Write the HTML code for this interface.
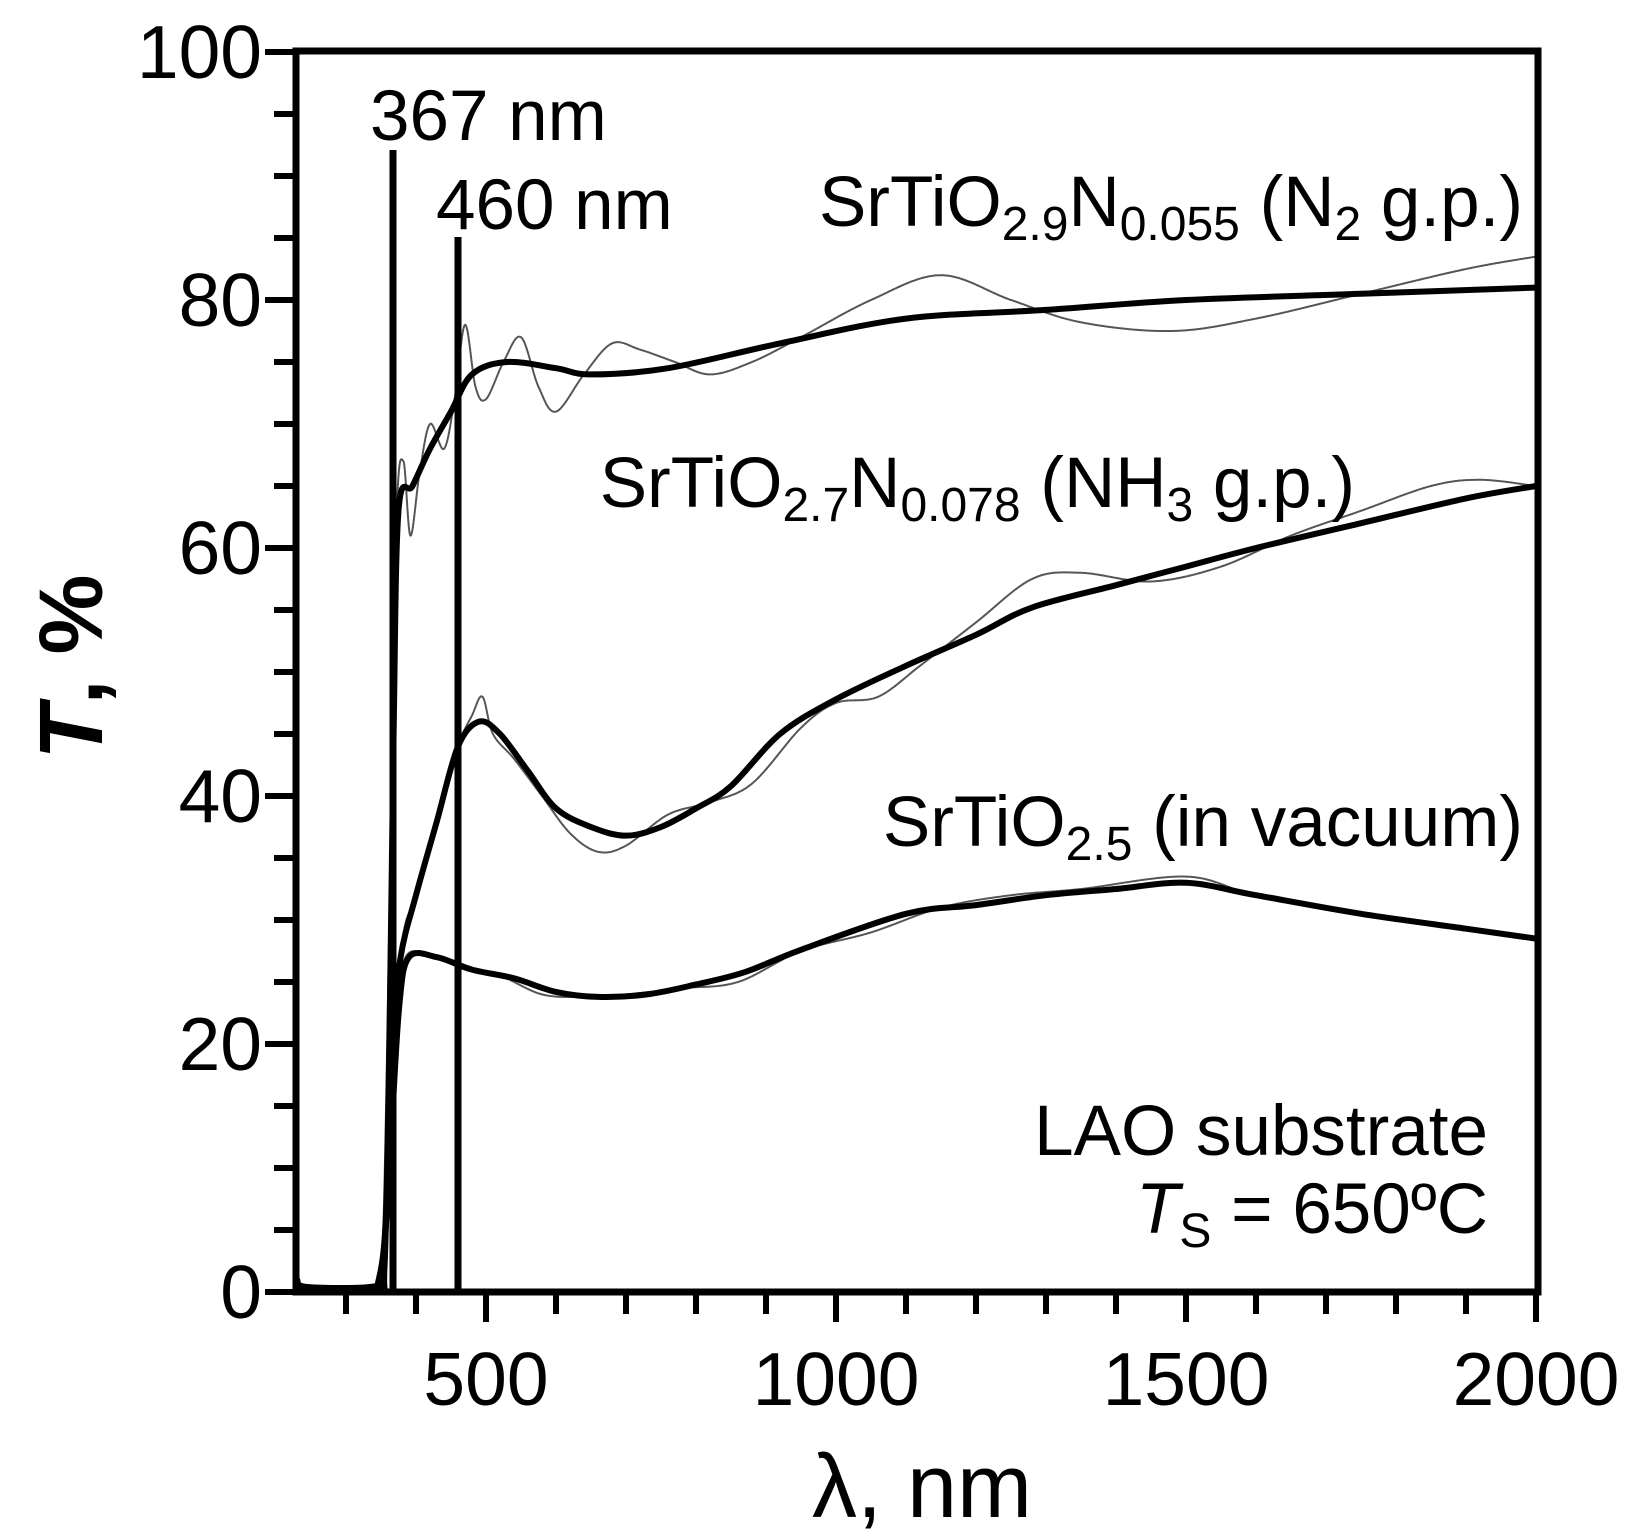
<!DOCTYPE html>
<html><head><meta charset="utf-8"><style>
html,body{margin:0;padding:0;background:#fff}
svg{display:block}
text{font-family:"Liberation Sans",Arial,sans-serif;fill:#000}
</style></head><body>
<svg id="s" width="1625" height="1539" viewBox="0 0 1625 1539" xmlns="http://www.w3.org/2000/svg">
<g id="ticks" stroke="#000" stroke-width="6"></g>
<g id="curves" fill="none" stroke-linejoin="round" stroke-linecap="round"></g>
<line x1="393" y1="150" x2="393" y2="1292" stroke="#000" stroke-width="7"/>
<line x1="458" y1="237" x2="458" y2="1292" stroke="#000" stroke-width="7"/>
<rect x="296" y="51" width="1242" height="1241" fill="none" stroke="#000" stroke-width="7"/>
<g font-size="75">
<text x="262" y="78" text-anchor="end">100</text>
<text x="262" y="326" text-anchor="end">80</text>
<text x="262" y="574" text-anchor="end">60</text>
<text x="262" y="822" text-anchor="end">40</text>
<text x="262" y="1070" text-anchor="end">20</text>
<text x="262" y="1318" text-anchor="end">0</text>
<text x="486" y="1405" text-anchor="middle">500</text>
<text x="836" y="1405" text-anchor="middle">1000</text>
<text x="1186" y="1405" text-anchor="middle">1500</text>
<text x="1536" y="1405" text-anchor="middle">2000</text>
</g>
<text x="922" y="1517" text-anchor="middle" font-size="90">λ, nm</text>
<text transform="translate(102,667) rotate(-90)" text-anchor="middle" font-size="90" font-weight="bold"><tspan font-style="italic">T</tspan>, %</text>
<g font-size="71">
<text x="370" y="140">367 nm</text>
<text x="436" y="229">460 nm</text>
<text x="1523" y="226" text-anchor="end">SrTiO<tspan font-size="48" dy="14">2.9</tspan><tspan dy="-14">N</tspan><tspan font-size="48" dy="14">0.055</tspan><tspan dy="-14"> (N</tspan><tspan font-size="48" dy="14">2</tspan><tspan dy="-14"> g.p.)</tspan></text>
<text x="1355" y="507" text-anchor="end">SrTiO<tspan font-size="48" dy="14">2.7</tspan><tspan dy="-14">N</tspan><tspan font-size="48" dy="14">0.078</tspan><tspan dy="-14"> (NH</tspan><tspan font-size="48" dy="14">3</tspan><tspan dy="-14"> g.p.)</tspan></text>
<text x="1523" y="846" text-anchor="end">SrTiO<tspan font-size="48" dy="14">2.5</tspan><tspan dy="-14"> (in vacuum)</tspan></text>
<text x="1488" y="1155" text-anchor="end">LAO substrate</text>
<text x="1488" y="1233" text-anchor="end"><tspan font-style="italic">T</tspan><tspan font-size="48" dy="14">S</tspan><tspan dy="-14"> = 650ºC</tspan></text>
</g>
</svg>
<script>
var X=function(n){return 486+(n-500)*0.7},Y=function(t){return 1292-12.4*t};
var tk=document.getElementById('ticks'),h='';
for(var v=0;v<=100;v+=5){var y=Y(v),L=(v%20==0)?31:22;h+='<line x1="'+(296-L)+'" y1="'+y+'" x2="296" y2="'+y+'"/>';}
for(var n=300;n<=2000;n+=100){var x=X(n),L=(n%500==0)?30:22;h+='<line x1="'+x+'" y1="1292" x2="'+x+'" y2="'+(1292+L)+'"/>';}
tk.innerHTML=h;
function path(p){var q=p.map(function(a){return[X(a[0]),Y(a[1])]});var d='M'+q[0][0]+','+q[0][1];
for(var i=0;i<q.length-1;i++){var p0=q[Math.max(i-1,0)],p1=q[i],p2=q[i+1],p3=q[Math.min(i+2,q.length-1)];
d+=' C'+(p1[0]+(p2[0]-p0[0])/6)+','+(p1[1]+(p2[1]-p0[1])/6)+' '+(p2[0]-(p3[0]-p1[0])/6)+','+(p2[1]-(p3[1]-p1[1])/6)+' '+p2[0]+','+p2[1];}return d;}
var thin=[
[[230,1.2],[245,0.4],[340,0.4],[352,3],[362,30],[372,62],[382,67],[392,61],[405,66],[420,70],[440,68],[455,72],[470,78],[485,73],[500,72],[525,75],[550,77],[575,73],[600,71],[640,74],[680,76.5],[720,76],[770,75],[820,74],[880,75],[950,77],[1050,80],[1150,82],[1250,80],[1350,78.2],[1480,77.5],[1600,78.5],[1750,80.5],[1900,82.5],[2000,83.5]],
[[355,1],[365,15],[380,28],[400,32],[430,38],[460,44],[480,46.5],[495,48],[510,45],[540,43],[580,40],[620,37],[660,35.5],[700,36],[760,38.5],[820,39.5],[880,41],[950,45.5],[1000,47.5],[1060,48],[1120,50.5],[1200,54],[1280,57.5],[1350,58],[1450,57.3],[1550,58.5],[1650,61],[1750,63],[1850,65],[1920,65.5],[2000,65]],
[[350,1],[360,10],[372,22],[385,27],[420,27.2],[470,26],[520,25.5],[580,24],[640,23.8],[700,24],[780,24.5],[860,25],[950,27.5],[1050,29],[1150,31],[1250,32],[1350,32.5],[1500,33.5],[1600,32],[1750,30.5],[1900,29.3],[2000,28.5]]];
var thick=[
[[230,1],[245,0.4],[345,0.5],[355,2],[362,20],[368,45],[375,63],[395,65],[420,68],[450,71],[480,74],[530,75],[600,74.5],[650,74],[760,74.5],[920,76.5],[1100,78.5],[1300,79.2],[1500,80],[1750,80.5],[2000,81]],
[[345,0.5],[356,5],[366,20],[378,27],[400,32],[430,38],[460,44],[490,46],[520,45],[560,42],[600,39],[650,37.5],[700,36.8],[750,37.5],[800,39],[850,40.8],[920,45],[1000,47.8],[1100,50.5],[1200,53],[1280,55.2],[1400,57],[1500,58.5],[1600,60],[1750,62],[1900,64],[2000,65]],
[[345,0.5],[354,3],[364,12],[376,23],[390,27],[430,27],[480,26],[540,25.3],[600,24.2],[660,23.8],[730,24],[800,24.8],[870,25.8],[950,27.6],[1100,30.5],[1200,31.2],[1300,32],[1400,32.5],[1500,33],[1600,32],[1750,30.5],[1900,29.3],[2000,28.5]]];
var c='';
thin.forEach(function(p){c+='<path d="'+path(p)+'" stroke="#555" stroke-width="2" stroke-dasharray="3 1"/>';});
thick.forEach(function(p){c+='<path d="'+path(p)+'" stroke="#000" stroke-width="6"/>';});
document.getElementById('curves').innerHTML=c;
</script>
</body></html>
